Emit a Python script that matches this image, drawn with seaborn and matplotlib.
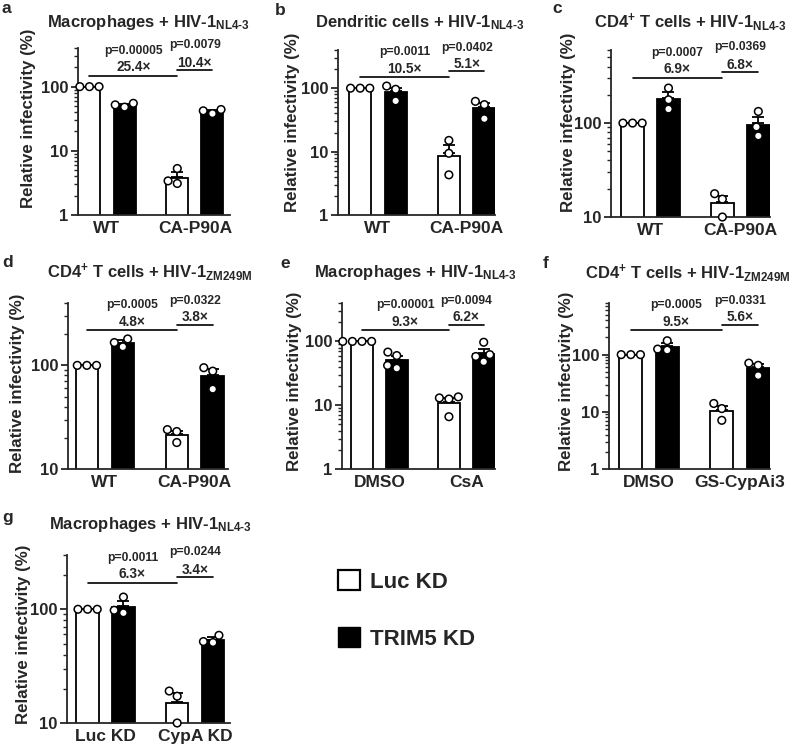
import numpy as np
import pandas as pd
import matplotlib
matplotlib.use("Agg")
import matplotlib.pyplot as plt
import seaborn as sns
from matplotlib.patches import Patch
from matplotlib.ticker import FixedLocator, LogLocator, NullFormatter

sns.set_style("ticks")
plt.rcParams["font.family"] = ["Liberation Sans", "DejaVu Sans"]
plt.rcParams["font.weight"] = "bold"
plt.rcParams["mathtext.fontset"] = "custom"
plt.rcParams["mathtext.rm"] = "Liberation Sans:bold"
plt.rcParams["mathtext.it"] = "Liberation Sans:bold"
plt.rcParams["mathtext.bf"] = "Liberation Sans:bold"

# ---- data ----
kd_levels = ["Luc KD", "TRIM5 KD"]

a_groups = ["WT", "CA-P90A"]
a_luc = [[100, 100, 100], [5.3, 3.1, 3.4]]
a_trim = [[48, 55, 52], [44, 42, 38]]

b_groups = ["WT", "CA-P90A"]
b_luc = [[100, 100, 100], [15, 9.4, 4.3]]
b_trim = [[108, 63, 96], [62, 55, 33]]

c_groups = ["WT", "CA-P90A"]
c_luc = [[100, 100, 100], [17.7, 15.5, 10]]
c_trim = [[236, 177, 141], [133, 91, 73]]

d_groups = ["WT", "CA-P90A"]
d_luc = [[100, 100, 100], [24, 23, 18]]
d_trim = [[180, 151, 166], [95, 88, 59]]

e_groups = ["DMSO", "CsA"]
e_luc = [[100, 100, 100, 100], [13.5, 13, 12.5, 6.6]]
e_trim = [[68, 60, 42, 38], [97, 62, 58, 48]]

f_groups = ["DMSO", "GS-CypAi3"]
f_luc = [[100, 100, 100], [14, 11.4, 7.1]]
f_trim = [[175, 120, 125], [71, 65, 43]]

g_groups = ["Luc KD", "CypA KD"]
g_luc = [[100, 100, 100], [19.1, 17.2, 10]]
g_trim = [[128, 98, 93], [59, 52, 51]]

nl43 = r"$_{NL4‐3}$"
zm = r"$_{ZM249M}$"
titles = ["Macrophages + HIV-1" + nl43,
          "Dendritic cells + HIV-1" + nl43,
          r"CD4$^{+}$ T cells + HIV-1" + nl43,
          r"CD4$^{+}$ T cells + HIV-1" + zm,
          "Macrophages + HIV-1" + nl43,
          r"CD4$^{+}$ T cells + HIV-1" + zm,
          "Macrophages + HIV-1" + nl43]
letters = ["a", "b", "c", "d", "e", "f", "g"]
p_long = ["p=0.00005", "p=0.0011", "p=0.0007", "p=0.0005", "p=0.00001", "p=0.0005", "p=0.0011"]
p_short = ["p=0.0079", "p=0.0402", "p=0.0369", "p=0.0322", "p=0.0094", "p=0.0331", "p=0.0244"]
fold_long = ["25.4×", "10.5×", "6.9×", "4.8×", "9.3×", "9.5×", "6.3×"]
fold_short = ["10.4×", "5.1×", "6.8×", "3.8×", "6.2×", "5.6×", "3.4×"]

panels = [(a_groups, a_luc, a_trim), (b_groups, b_luc, b_trim), (c_groups, c_luc, c_trim),
          (d_groups, d_luc, d_trim), (e_groups, e_luc, e_trim), (f_groups, f_luc, f_trim),
          (g_groups, g_luc, g_trim)]

# ---- layout (pixels in an 800x748 canvas) ----
W, H = 800, 748
# left, right, top, bottom of each axes
boxes = [(78, 230, 48, 215), (338, 495, 50, 215), (611, 770, 50, 217),
         (68, 228, 303, 469), (342, 495, 303, 469), (609, 770, 303, 469),
         (67, 230, 555, 723)]
xlims = [(-0.33, 1.40), (-0.45, 1.32), (-0.44, 1.33), (-0.41, 1.37),
         (-0.43, 1.33), (-0.44, 1.33), (-0.43, 1.39)]
ylims = [(1, 400), (1, 400), (10, 600), (10, 400), (1, 400), (1, 800), (10, 300)]
title_pos = [(148, 27), (420, 27), (690, 27), (150, 277), (415, 277), (688, 278), (150, 529)]
letter_pos = [(2, 13), (275, 15), (552, 13), (2, 267), (280, 268), (543, 268), (2, 522)]
ylabel_pos = [(29, 118), (292, 122), (568, 122), (18, 383), (295, 381), (566, 381), (24, 634)]


def px(x, y):
    return x / W, 1 - y / H


fig = plt.figure(figsize=(8, 7.48), dpi=100)

for i, (groups, luc, trim) in enumerate(panels):
    l, r, t, b = boxes[i]
    ax = fig.add_axes([l / W, 1 - b / H, (r - l) / W, (b - t) / H])

    rows = []
    for g, lv, tv in zip(groups, luc, trim):
        rows += [(g, kd_levels[0], v) for v in lv]
        rows += [(g, kd_levels[1], v) for v in tv]
    df = pd.DataFrame(rows, columns=["group", "kd", "value"])

    ax.set_yscale("log")
    sns.barplot(data=df, x="group", y="value", hue="kd", order=groups, hue_order=kd_levels,
                palette=["white", "black"], saturation=1, errorbar=None, gap=0.375,
                edgecolor="black", linewidth=1.3, legend=False, ax=ax)

    # bar centres from the containers (one container per hue level)
    centres = [[bar.get_x() + bar.get_width() / 2 for bar in cont] for cont in ax.containers[:2]]

    # SEM error bars, upward only
    stats = df.groupby(["kd", "group"])["value"].agg(["mean", "sem"])
    for k, kd in enumerate(kd_levels):
        for j, g in enumerate(groups):
            m, s = stats.loc[(kd, g)]
            if s > 0:
                ax.errorbar(centres[k][j], m, yerr=[[0], [s]], fmt="none", ecolor="black",
                            elinewidth=1.3, capsize=4.5, capthick=1.3, zorder=3)

    sns.swarmplot(data=df, x="group", y="value", hue="kd", order=groups, hue_order=kd_levels,
                  dodge=True, palette=["white", "white"], edgecolor="black", linewidth=1.1,
                  size=5.5, legend=False, ax=ax, zorder=4, clip_on=False)

    lo, hi = ylims[i]
    ax.set_ylim(lo, hi)
    ax.set_xlim(*xlims[i])
    majors = [v for v in [1, 10, 100] if v >= lo]
    ax.yaxis.set_major_locator(FixedLocator(majors))
    ax.set_yticklabels([str(v) for v in majors])
    ax.yaxis.set_minor_locator(LogLocator(base=10, subs=np.arange(2, 10), numticks=30))
    ax.yaxis.set_minor_formatter(NullFormatter())
    ax.set_xlabel("")
    ax.set_ylabel("")
    sns.despine(ax=ax)
    for sp in ["left", "bottom"]:
        ax.spines[sp].set_linewidth(1.3)
    ax.tick_params(axis="x", length=0, labelsize=12.5, pad=4)
    ax.tick_params(axis="y", which="major", length=5, width=1.3, labelsize=12, pad=2)
    ax.tick_params(axis="y", which="minor", length=3, width=1.0)

    # significance brackets
    tr = ax.get_xaxis_transform()
    x0, x1, x2 = centres[0][0], centres[0][1], centres[1][1]
    ax.plot([x0, x1], [0.835, 0.835], color="black", lw=1.2, transform=tr, clip_on=False)
    ax.plot([x1, x2], [0.87, 0.87], color="black", lw=1.2, transform=tr, clip_on=False)
    ax.text((x0 + x1) / 2, 0.985, p_long[i], transform=tr, ha="center", va="center", fontsize=8.7)
    ax.text((x0 + x1) / 2, 0.885, fold_long[i], transform=tr, ha="center", va="center", fontsize=9.8)
    ax.text((x1 + x2) / 2, 1.015, p_short[i], transform=tr, ha="center", va="center", fontsize=8.7)
    ax.text((x1 + x2) / 2, 0.913, fold_short[i], transform=tr, ha="center", va="center", fontsize=9.8)

    fig.text(*px(*title_pos[i]), titles[i], ha="center", va="baseline", fontsize=12)
    fig.text(*px(*letter_pos[i]), letters[i], ha="left", va="baseline", fontsize=12.5)
    fig.text(*px(*ylabel_pos[i]), "Relative infectivity (%)", ha="center", va="center",
             rotation=90, fontsize=12.2)

handles = [Patch(facecolor="white", edgecolor="black", linewidth=1.6),
           Patch(facecolor="black", edgecolor="black")]
fig.legend(handles, kd_levels, loc="upper left", bbox_to_anchor=px(338, 570), frameon=False,
           fontsize=16, handlelength=1, handleheight=1, labelspacing=1.55,
           handletextpad=0.45, borderpad=0, borderaxespad=0)

fig.savefig("out.png", dpi=100)
